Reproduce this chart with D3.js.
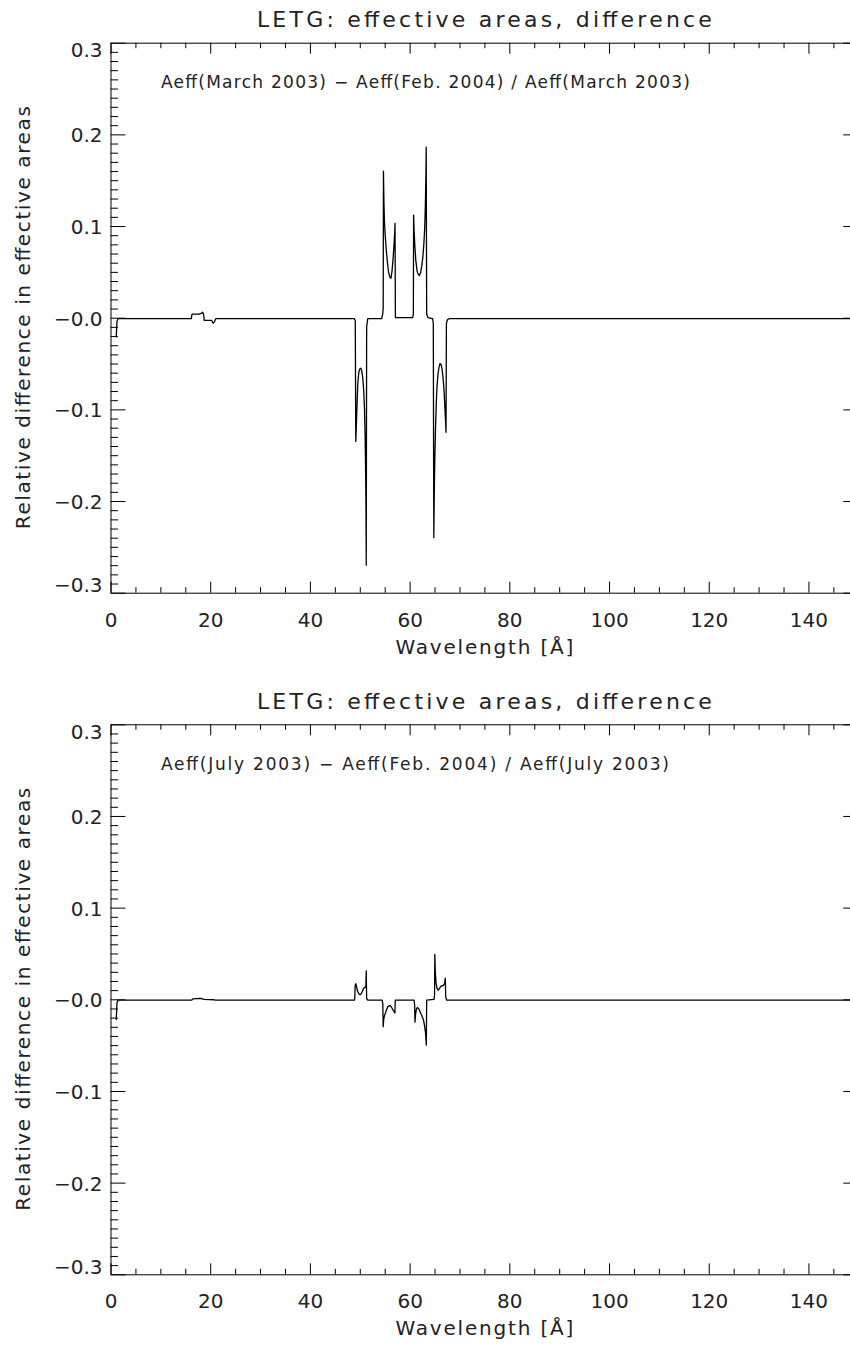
<!DOCTYPE html>
<html>
<head>
<meta charset="utf-8">
<script src="https://cdn.jsdelivr.net/npm/d3@7"></script>
<style>
  html, body { margin: 0; padding: 0; background: #fff; }
  svg { display: block; }
  text { font-family: "DejaVu Sans", sans-serif; fill: #222; }
</style>
</head>
<body>
<script>
// Tick values and labels
const xTickValues = [0, 20, 40, 60, 80, 100, 120, 140];
const xMinorValues = d3.range(0, 151, 5).filter(v => v % 20 !== 0);
const yTickValues = [-0.3, -0.2, -0.1, 0, 0.1, 0.2, 0.3];
const yTickLabels = ["\u22120.3", "\u22120.2", "\u22120.1", "\u22120.0", "0.1", "0.2", "0.3"];
const yMinorValues = d3.range(-30, 31).filter(i => i % 10 !== 0).map(i => i / 100);

// Panel 1: March 2003 vs Feb. 2004 (wavelength in Å, relative difference)
const marchWave = [
  1.05, 1.15, 1.3, 1.5, 5, 10, 16.2, 16.35, 17.0, 17.8, 18.3, 18.5, 18.7, 18.8, 19.5, 20.3, 20.6, 20.9, 21.1,
  30, 40, 48.9, 49.1, 49.2, 49.3, 49.45, 49.6, 49.8, 50.0, 50.2, 50.4, 50.6, 50.8, 50.95, 51.08, 51.18, 51.25, 51.3, 51.38, 51.6,
  54.4, 54.6, 54.7, 54.75, 54.85, 54.95, 55.1, 55.3, 55.55, 55.8, 56.05, 56.25, 56.45, 56.65, 56.85, 57.0, 57.07, 57.15, 57.4,
  60.6, 60.75, 60.8, 60.9, 61.05, 61.25, 61.5, 61.75, 61.95, 62.2, 62.45, 62.65, 62.85, 63.0, 63.1, 63.2, 63.28, 63.33, 63.42, 63.7,
  64.6, 64.75, 64.85, 64.95, 65.05, 65.2, 65.35, 65.5, 65.7, 65.9, 66.1, 66.3, 66.5, 66.7, 66.9, 67.05, 67.2, 67.3, 67.38, 67.6,
  68, 80, 100, 120, 140, 150
];
const marchDiff = [
  -0.021, -0.021, -0.004, -0.001, -0.001, -0.001, -0.001, 0.004, 0.004, 0.004, 0.005, 0.006, 0.003, -0.003, -0.003, -0.003, -0.006, -0.004, -0.001,
  -0.001, -0.001, -0.001, -0.003, -0.135, -0.12, -0.095, -0.072, -0.06, -0.056, -0.055, -0.058, -0.066, -0.08, -0.1, -0.13, -0.17, -0.21, -0.27, -0.01, -0.001,
  -0.001, 0.004, 0.01, 0.16, 0.125, 0.105, 0.09, 0.075, 0.06, 0.049, 0.044, 0.043, 0.05, 0.062, 0.078, 0.092, 0.103, 0.0, 0.0,
  0.0, 0.004, 0.112, 0.095, 0.078, 0.062, 0.051, 0.047, 0.046, 0.049, 0.057, 0.066, 0.08, 0.095, 0.11, 0.135, 0.16, 0.186, 0.004, 0.0,
  -0.001, -0.006, -0.24, -0.19, -0.155, -0.12, -0.093, -0.074, -0.061, -0.054, -0.05, -0.051, -0.056, -0.065, -0.079, -0.095, -0.112, -0.125, -0.006, -0.002,
  -0.001, -0.001, -0.001, -0.001, -0.001, -0.001
];

// Panel 2: July 2003 vs Feb. 2004
const julyWave = [
  1.05, 1.15, 1.3, 1.5, 16.3, 16.5, 18.0, 18.8, 20.8, 21.0,
  48.9, 49.0, 49.08, 49.2, 49.35, 49.55, 49.8, 50.05, 50.3, 50.55, 50.8, 51.05, 51.22, 51.3, 51.38, 51.6,
  54.5, 54.62, 54.7, 54.8, 54.95, 55.15, 55.4, 55.65, 55.9, 56.15, 56.4, 56.7, 56.95, 57.05, 57.12,
  60.9, 61.0, 61.08, 61.2, 61.35, 61.55, 61.8, 62.05, 62.3, 62.55, 62.8, 63.0, 63.2, 63.35, 63.42,
  64.9, 65.0, 65.05, 65.15, 65.3, 65.5, 65.75, 66.0, 66.25, 66.5, 66.75, 67.0, 67.15, 67.25, 67.45,
  80, 100, 120, 140, 150
];
const julyDiff = [
  -0.022, -0.022, -0.004, -0.001, -0.001, 0.0005, 0.001, 0.0, -0.0005, -0.001,
  -0.001, 0.001, 0.015, 0.017, 0.014, 0.009, 0.006, 0.005, 0.006, 0.009, 0.012, 0.013, 0.014, 0.031, 0.001, -0.001,
  -0.001, -0.005, -0.03, -0.022, -0.018, -0.015, -0.011, -0.008, -0.007, -0.007, -0.009, -0.012, -0.014, -0.015, -0.001,
  -0.001, -0.006, -0.025, -0.016, -0.011, -0.009, -0.01, -0.013, -0.016, -0.019, -0.023, -0.029, -0.037, -0.05, -0.001,
  0.0, 0.004, 0.049, 0.03, 0.018, 0.012, 0.01, 0.012, 0.014, 0.015, 0.015, 0.017, 0.023, 0.002, -0.001,
  -0.001, -0.001, -0.001, -0.001, -0.001
];

const panels = [
  { top: 42.7, wave: marchWave, diff: marchDiff,
    note: "Aeff(March 2003) \u2212 Aeff(Feb. 2004) / Aeff(March 2003)", noteLen: 529 },
  { top: 724.3, wave: julyWave, diff: julyDiff,
    note: "Aeff(July 2003) \u2212 Aeff(Feb. 2004) / Aeff(July 2003)", noteLen: 508 }
];

const W = 850, H = 1347;
const left = 110.5, right = 858.3, plotH = 550;

const svg = d3.select("body").append("svg")
  .attr("width", W).attr("height", H)
  .attr("viewBox", `0 0 ${W} ${H}`);

const x = d3.scaleLinear().domain([0, 150]).range([left, right]);

panels.forEach((p, i) => {
  const top = p.top, bottom = top + plotH;
  const y = d3.scaleLinear().domain([-0.3, 0.3]).range([bottom, top]);
  const g = svg.append("g");

  const clipId = "clip" + i;
  svg.append("clipPath").attr("id", clipId)
    .append("rect").attr("x", left).attr("y", top)
    .attr("width", right - left).attr("height", plotH);

  // data curve
  const pts = p.wave.map((w, k) => [w, p.diff[k]]);
  g.append("path")
    .datum(pts)
    .attr("clip-path", `url(#${clipId})`)
    .attr("fill", "none")
    .attr("stroke", "#000")
    .attr("stroke-width", 1.3)
    .attr("stroke-linejoin", "round")
    .attr("d", d3.line().x(d => x(d[0])).y(d => y(d[1])));

  const styleAxis = sel => {
    sel.selectAll("path.domain").attr("stroke", "#000").attr("stroke-width", 1);
    sel.selectAll(".tick line").attr("stroke", "#000").attr("stroke-width", 1);
  };

  // bottom axis with labels
  const gx = g.append("g").attr("transform", `translate(0,${bottom})`)
    .call(d3.axisBottom(x).tickValues(xTickValues).tickSize(-11).tickSizeOuter(0)
      .tickFormat(d3.format("d")));
  gx.selectAll("text").attr("y", 34).attr("dy", null)
    .attr("font-size", 20).attr("font-family", "DejaVu Sans").attr("fill", "#222");
  styleAxis(gx);
  g.append("g").attr("transform", `translate(0,${bottom})`)
    .call(d3.axisBottom(x).tickValues(xMinorValues).tickSize(-5.5).tickFormat(""))
    .call(s => s.select(".domain").remove()).call(styleAxis);

  // top axis
  g.append("g").attr("transform", `translate(0,${top})`)
    .call(d3.axisTop(x).tickValues(xTickValues).tickSize(-11).tickSizeOuter(0).tickFormat(""))
    .call(styleAxis);
  g.append("g").attr("transform", `translate(0,${top})`)
    .call(d3.axisTop(x).tickValues(xMinorValues).tickSize(-5.5).tickFormat(""))
    .call(s => s.select(".domain").remove()).call(styleAxis);

  // left axis with labels
  const gy = g.append("g").attr("transform", `translate(${left},0)`)
    .call(d3.axisLeft(y).tickValues(yTickValues).tickSize(-15).tickSizeOuter(0)
      .tickFormat((d, k) => yTickLabels[k]));
  gy.selectAll("text")
    .attr("x", -8).attr("dy", null)
    .attr("y", d => d >= 0.29 ? 14 : (d <= -0.29 ? -1 : 7.5))
    .attr("font-size", 20).attr("font-family", "DejaVu Sans").attr("fill", "#222");
  styleAxis(gy);
  g.append("g").attr("transform", `translate(${left},0)`)
    .call(d3.axisLeft(y).tickValues(yMinorValues).tickSize(-7.5).tickFormat(""))
    .call(s => s.select(".domain").remove()).call(styleAxis);

  // right axis
  g.append("g").attr("transform", `translate(${right},0)`)
    .call(d3.axisRight(y).tickValues(yTickValues).tickSize(-15).tickSizeOuter(0).tickFormat(""))
    .call(styleAxis);
  g.append("g").attr("transform", `translate(${right},0)`)
    .call(d3.axisRight(y).tickValues(yMinorValues).tickSize(-7.5).tickFormat(""))
    .call(s => s.select(".domain").remove()).call(styleAxis);

  // title
  g.append("text")
    .attr("x", (left + right) / 2).attr("y", top - 15.5)
    .attr("text-anchor", "middle")
    .attr("font-size", 22)
    .attr("textLength", 455).attr("lengthAdjust", "spacing")
    .text("LETG: effective areas, difference");

  // annotation inside the frame
  g.append("text")
    .attr("x", 161).attr("y", top + 45.5)
    .attr("font-size", 17)
    .attr("textLength", p.noteLen).attr("lengthAdjust", "spacing")
    .text(p.note);

  // axis titles
  g.append("text")
    .attr("x", (left + right) / 2).attr("y", bottom + 61)
    .attr("text-anchor", "middle")
    .attr("font-size", 20)
    .attr("textLength", 178).attr("lengthAdjust", "spacing")
    .text("Wavelength [\u00c5]");

  g.append("text")
    .attr("transform", `translate(30,${(top + bottom) / 2}) rotate(-90)`)
    .attr("text-anchor", "middle")
    .attr("font-size", 20)
    .attr("textLength", 423).attr("lengthAdjust", "spacing")
    .text("Relative difference in effective areas");
});
</script>
</body>
</html>
